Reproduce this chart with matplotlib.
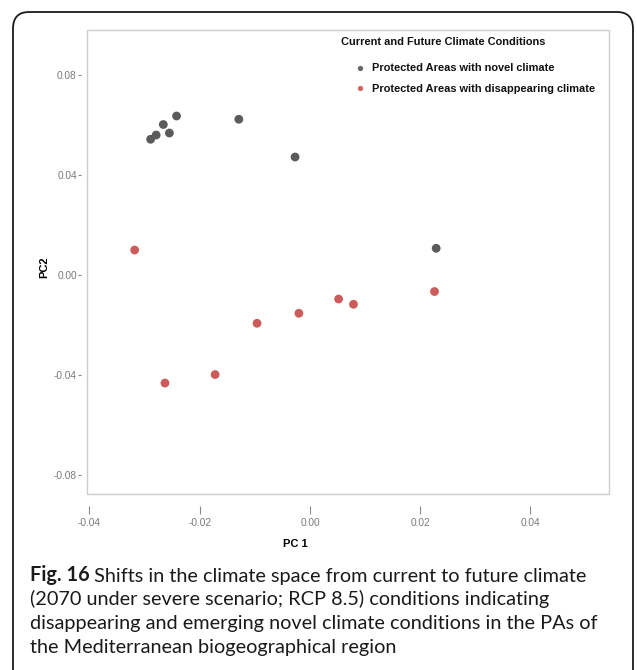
import matplotlib
matplotlib.use("Agg")
import matplotlib.pyplot as plt
from matplotlib.patches import FancyBboxPatch, Rectangle
from matplotlib.lines import Line2D
import matplotlib.ticker as mticker

# PCA scores of the protected areas (PC1, PC2)
novel_pc1 = [-0.0289, -0.0279, -0.0266, -0.0255, -0.0242, -0.0129, -0.0027, 0.0229]
novel_pc2 = [0.0541, 0.0558, 0.0600, 0.0566, 0.0634, 0.0621, 0.0470, 0.0105]

disappearing_pc1 = [-0.0318, -0.0263, -0.0172, -0.0096, -0.0020, 0.0052, 0.0079, 0.0226]
disappearing_pc2 = [0.0098, -0.0434, -0.0400, -0.0195, -0.0155, -0.0098, -0.0119, -0.0068]

x_ticks = [-0.04, -0.02, 0.00, 0.02, 0.04]
x_tick_labels = ["-0.04", "-0.02", "0.00", "0.02", "0.04"]
y_ticks = [-0.08, -0.04, 0.00, 0.04, 0.08]
y_tick_labels = ["-0.08", "-0.04", "0.00", "0.04", "0.08"]

legend_title = "Current and Future Climate Conditions"
series_labels = ["Protected Areas with novel climate",
                 "Protected Areas with disappearing climate"]

caption_bold = "Fig. 16"
caption_lines = [
    " Shifts in the climate space from current to future climate",
    "(2070 under severe scenario; RCP 8.5) conditions indicating",
    "disappearing and emerging novel climate conditions in the PAs of",
    "the Mediterranean biogeographical region",
]

W, H = 637, 670
fig = plt.figure(figsize=(W / 100, H / 100), dpi=100)
fig.patch.set_facecolor("white")

SANS = ["Liberation Sans", "DejaVu Sans"]
CAPTION = ["Lato", "DejaVu Sans"]
CAP_SIZE = 14.3

def fx(px):
    return px / W

def fy(py):
    return 1 - py / H

# rounded card around figure and caption
card = FancyBboxPatch((fx(13), -0.05), fx(633) - fx(13), fy(12) + 0.05,
                      boxstyle="round,pad=0,rounding_size=0.025",
                      transform=fig.transFigure, facecolor="none",
                      edgecolor="#1a1a1a", linewidth=1.3, zorder=0)
fig.add_artist(card)

left, right, top, bottom = 86.7, 608.7, 30.0, 494.3
ax = fig.add_axes([fx(left), fy(bottom), fx(right) - fx(left), (bottom - top) / H])
ax.set_facecolor("white")

grey = "#5b5b5b"
red = "#cc5c5c"

ax.scatter(novel_pc1, novel_pc2, s=40, color=grey, edgecolors="none", zorder=3)
ax.scatter(disappearing_pc1, disappearing_pc2, s=40, color=red, edgecolors="none", zorder=3)

ax.set_xlim(-0.0405, 0.0542)
ax.set_ylim(-0.0879, 0.0978)

# panel frame
ax.add_patch(Rectangle((0, 0), 1, 1, transform=ax.transAxes, fill=False,
                       edgecolor="#cccccc", linewidth=1.0, zorder=4, clip_on=False))
for s in ax.spines.values():
    s.set_visible(False)
ax.spines["left"].set_position(("outward", 4.1))
ax.spines["bottom"].set_position(("outward", 8.4))

ax.xaxis.set_major_locator(mticker.FixedLocator(x_ticks))
ax.xaxis.set_major_formatter(mticker.FixedFormatter(x_tick_labels))
ax.yaxis.set_major_locator(mticker.FixedLocator(y_ticks))
ax.yaxis.set_major_formatter(mticker.FixedFormatter(y_tick_labels))

ax.tick_params(axis="y", direction="out", length=2.2, width=0.8, color="#8a8a8a",
               pad=0.8, labelsize=7.3, labelcolor="#7a7a7a")
ax.tick_params(axis="x", direction="out", length=5.8, width=0.8, color="#8a8a8a",
               pad=3.0, labelsize=7.3, labelcolor="#7a7a7a")
for lab in ax.get_xticklabels() + ax.get_yticklabels():
    lab.set_fontfamily(SANS)

ax.set_xlabel("PC 1", fontsize=8, fontweight="bold", family=SANS, color="black")
ax.set_ylabel("PC2", fontsize=8, fontweight="bold", family=SANS, color="black")
ax.xaxis.set_label_coords((295 - left) / (right - left), (bottom - 539) / (bottom - top))
ax.yaxis.set_label_coords((49 - left) / (right - left), (bottom - 267) / (bottom - top))

# legend
fig.text(fx(341), fy(42), legend_title, fontsize=7.9, fontweight="bold",
         family=SANS, color="#111111", ha="left", va="center")
handles = [Line2D([], [], linestyle="none", marker="o", markersize=3.8,
                  markerfacecolor="#666666", markeredgecolor="none"),
           Line2D([], [], linestyle="none", marker="o", markersize=3.8,
                  markerfacecolor="#d26464", markeredgecolor="none")]
leg = ax.legend(handles, series_labels, loc="center left",
                bbox_to_anchor=(fx(355.3), fy(78.7)), bbox_transform=fig.transFigure,
                frameon=False, borderpad=0, borderaxespad=0, handlelength=0.85,
                handletextpad=0.65, labelspacing=0.95,
                prop={"family": SANS, "weight": "bold", "size": 7.9})
for t in leg.get_texts():
    t.set_color("#111111")

# caption
baselines = [581, 605, 629, 653]
t_bold = fig.text(fx(29.5), fy(baselines[0]), caption_bold, fontsize=CAP_SIZE,
                  fontweight="bold", family=CAPTION, color="#1a1a1a",
                  ha="left", va="baseline")
ax.annotate(caption_lines[0], xy=(1, 0), xycoords=t_bold, va="bottom", ha="left",
            fontsize=CAP_SIZE, family=CAPTION, color="#1a1a1a", annotation_clip=False)
for line, yb in zip(caption_lines[1:], baselines[1:]):
    fig.text(fx(29.5), fy(yb), line, fontsize=CAP_SIZE, family=CAPTION, color="#1a1a1a",
             ha="left", va="baseline")

fig.savefig("out.png", dpi=100, facecolor="white")
